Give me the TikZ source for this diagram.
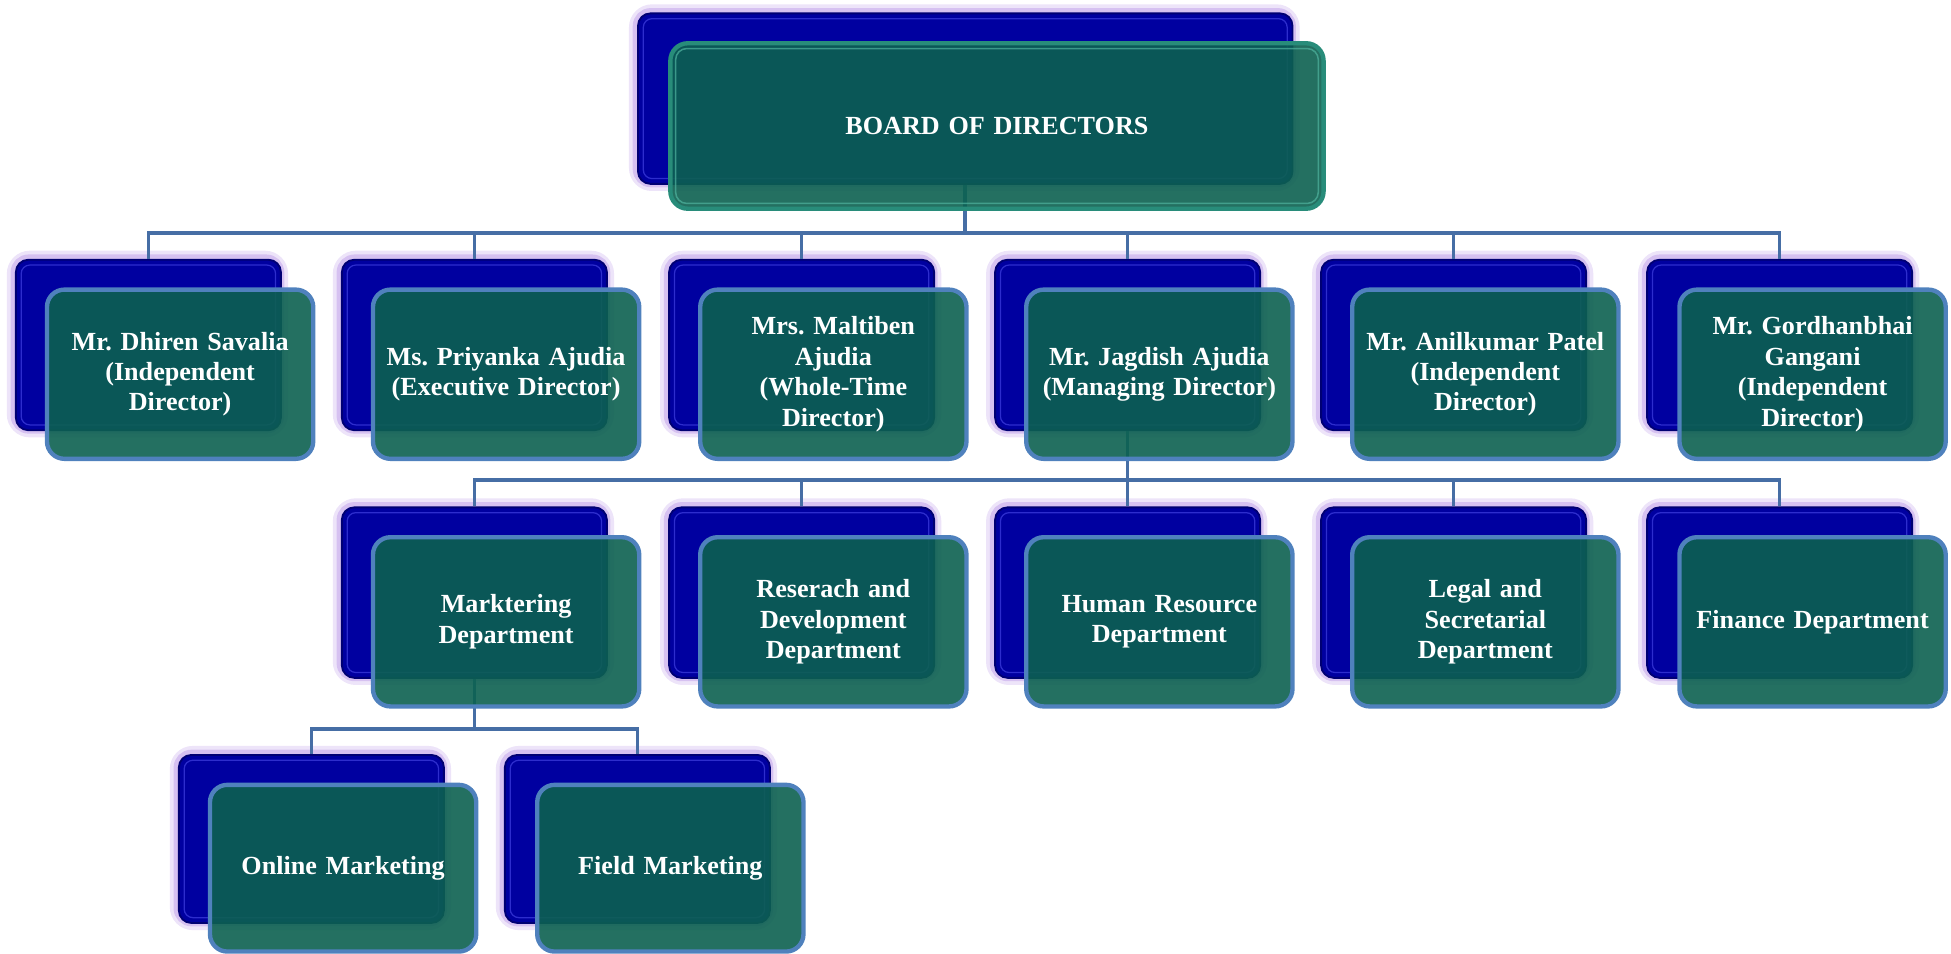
\documentclass[tikz,border=0pt]{standalone}
\usepackage{fontspec}
\setmainfont{Liberation Serif}
\usetikzlibrary{calc}
\frenchspacing
\definecolor{backblue}{RGB}{0,0,160}
\definecolor{backedge}{RGB}{0,0,115}
\definecolor{backinner}{RGB}{45,45,205}
\definecolor{glowc}{RGB}{195,165,235}
\definecolor{frontteal}{RGB}{12,97,80}
\definecolor{frontedge}{RGB}{79,129,189}
\definecolor{boardedge}{RGB}{40,140,122}
\definecolor{boardinner}{RGB}{80,180,160}
\definecolor{conncol}{RGB}{70,110,165}
\tikzset{
 backbox/.style={draw=backedge, line width=1.5pt, fill=backblue, rounded corners=10pt, inner sep=0pt},
 backline/.style={draw=backinner, line width=1pt, rounded corners=7pt},
 glowwide/.style={draw=glowc, line width=13pt, rounded corners=12pt, draw opacity=0.3},
 glownarrow/.style={draw=glowc, line width=7pt, rounded corners=11pt, draw opacity=0.55},
 frontbox/.style={draw=frontedge, line width=3.5pt, fill=frontteal, fill opacity=0.9, draw opacity=1, text opacity=1, rounded corners=14pt, text=white, align=center, text width=205pt, inner sep=0pt, font=\bfseries\fontsize{21}{24.5}\selectfont},
 boardbox/.style={frontbox, draw=boardedge, text width=480pt},
 boardline/.style={draw=boardinner, line width=1.2pt, rounded corners=9pt, draw opacity=0.7},
 conn/.style={draw=conncol, line width=3pt},
}
\newcommand{\backunit}[5]{%
  \draw[glowwide] (#2,#3) rectangle ++(#4,#5);
  \draw[glownarrow] (#2,#3) rectangle ++(#4,#5);
  \node[backbox, minimum width=#4pt, minimum height=#5pt, anchor=north west] (#1) at (#2,#3) {};
  \draw[backline] ([shift={(5,5)}]#1.north west) rectangle ([shift={(-5,-5)}]#1.south east);
}
\newcommand{\frontunit}[6]{%
  \node[frontbox, minimum width=#4pt, minimum height=#5pt, anchor=north west] (#1) at (#2,#3) {#6};
}
\begin{document}
\begin{tikzpicture}[x=1pt,y=-1pt]
\useasboundingbox (0,0) rectangle (1568,766);
% back boxes
\backunit{bodback}{512}{10}{526}{137}
\backunit{d1back}{12}{208}{213}{137}
\backunit{d2back}{274}{208}{213}{137}
\backunit{d3back}{537}{208}{213}{137}
\backunit{d4back}{799}{208}{213}{137}
\backunit{d5back}{1061}{208}{213}{137}
\backunit{d6back}{1323}{208}{213}{137}
\backunit{m1back}{274}{407}{213}{137}
\backunit{m2back}{537}{407}{213}{137}
\backunit{m3back}{799}{407}{213}{137}
\backunit{m4back}{1061}{407}{213}{137}
\backunit{m5back}{1323}{407}{213}{137}
\backunit{o1back}{143}{606}{213}{135}
\backunit{o2back}{405}{606}{213}{135}
% connectors
\coordinate (bus0) at (0,187);
\coordinate (bus1) at (0,386);
\coordinate (bus2) at (0,586);
\foreach \k in {d1back,d2back,d3back,d4back,d5back,d6back}
  \draw[conn] (bodback.south) -- (bodback.south |- bus0) -| (\k.north);
\foreach \k in {m1back,m2back,m3back,m4back,m5back}
  \draw[conn] (d4back.south) -- (d4back.south |- bus1) -| (\k.north);
\foreach \k in {o1back,o2back}
  \draw[conn] (m1back.south) -- (m1back.south |- bus2) -| (\k.north);
% front boxes
\node[boardbox, minimum width=525pt, minimum height=133pt, anchor=north west] (bod) at (537,33) {BOARD OF DIRECTORS};
\draw[boardline] ([shift={(6,6)}]bod.north west) rectangle ([shift={(-6,-6)}]bod.south east);
\frontunit{d1}{36}{231}{214}{136}{Mr. Dhiren Savalia\\(Independent\\Director)}
\frontunit{d2}{298}{231}{214}{136}{Ms. Priyanka Ajudia\\(Executive Director)}
\frontunit{d3}{561}{231}{214}{136}{Mrs. Maltiben\\Ajudia\\(Whole-Time\\Director)}
\frontunit{d4}{823}{231}{214}{136}{Mr. Jagdish Ajudia\\(Managing Director)}
\frontunit{d5}{1085}{231}{214}{136}{Mr. Anilkumar Patel\\(Independent\\Director)}
\frontunit{d6}{1348}{231}{214}{136}{Mr. Gordhanbhai\\Gangani\\(Independent\\Director)}
\frontunit{m1}{298}{430}{214}{136}{Marktering\\Department}
\frontunit{m2}{561}{430}{214}{136}{Reserach and\\Development\\Department}
\frontunit{m3}{823}{430}{214}{136}{Human Resource\\Department}
\frontunit{m4}{1085}{430}{214}{136}{Legal and\\Secretarial\\Department}
\frontunit{m5}{1348}{430}{214}{136}{Finance Department}
\frontunit{o1}{167}{629}{214}{134}{Online Marketing}
\frontunit{o2}{430}{629}{214}{134}{Field Marketing}
\end{tikzpicture}
\end{document}
